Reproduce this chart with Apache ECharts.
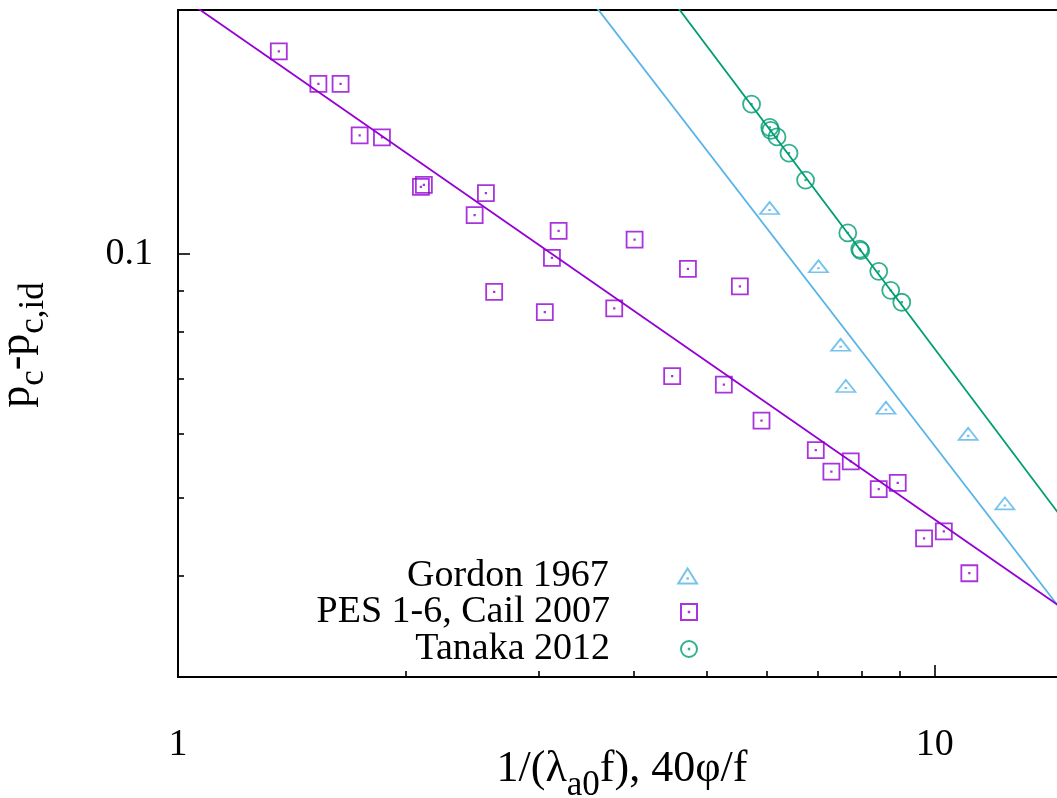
<!DOCTYPE html>
<html><head><meta charset="utf-8">
<script src="https://cdn.jsdelivr.net/npm/echarts@6.0.0/dist/echarts.min.js"></script>
<style>html,body{margin:0;padding:0;background:#fff;overflow:hidden}#c{width:1072px;height:798px}</style>
</head><body><div id="c"></div>
<script>
// ---- data ----
const gordonX = [6.05, 7.02, 7.51, 7.63, 8.62, 11.07, 12.38];
const gordonY = [0.1133, 0.0960, 0.0768, 0.0683, 0.0642, 0.0596, 0.0489];

const pesX = [1.359, 1.533, 1.640, 1.738, 1.860, 2.094, 2.113, 2.552, 2.466, 3.184, 3.120, 4.012, 2.617, 3.053,
              3.771, 4.719, 5.527, 4.498, 5.264, 5.903, 6.963, 7.745, 7.302, 8.433, 8.935, 9.680, 10.28, 11.11];
const pesY = [0.1778, 0.1621, 0.1621, 0.1400, 0.1392, 0.1209, 0.1216, 0.1188, 0.1116, 0.1067, 0.0988, 0.1041, 0.0897, 0.0847,
              0.0856, 0.0958, 0.0911, 0.0706, 0.0689, 0.0622, 0.0572, 0.0554, 0.0538, 0.0512, 0.0521, 0.0445, 0.0454, 0.0403];

const tanakaX = [5.727, 6.053, 6.072, 6.188, 6.418, 6.750, 7.675, 7.960, 7.984, 8.433, 8.746, 9.045];
const tanakaY = [0.1530, 0.1432, 0.1420, 0.1394, 0.1331, 0.1233, 0.1061, 0.1013, 0.1009, 0.0951, 0.0901, 0.0871];

const pesFitX = [1, 15];      const pesFitY = [0.209, 0.0361];
const gordonFitX = [3.5, 15]; const gordonFitY = [0.2066, 0.0354];
const tanakaFitX = [4.5, 15]; const tanakaFitY = [0.2057, 0.0461];

const seriesNames = ['Gordon 1967', 'PES 1-6, Cail 2007', 'Tanaka 2012'];
const xMajorTicks = [1, 10];
const xMinorTicks = [2, 3, 4, 5, 6, 7, 8, 9];
const yMajorTicks = [0.1];
const yMinorTicks = [0.04, 0.05, 0.06, 0.07, 0.08, 0.09];
const xRange = [1, 15];
const yRange = [0.03, 0.2];

// ---- styles ----
const C_BLUE = '#56b4e9', C_PURPLE = '#9400d3', C_GREEN = '#009e73';
const FONT = '"Liberation Serif", "Times New Roman", serif';
const SYM_TRI = 'path://M5,0 L10,8 L0,8 Z M4.85,5.2 L5.15,5.2 L5.15,5.5 L4.85,5.5 Z';
const SYM_SQ = 'path://M0,0 L10,0 L10,10 L0,10 Z M4.85,4.85 L5.15,4.85 L5.15,5.15 L4.85,5.15 Z';
const SYM_CI = 'path://M10,5 A5,5 0 1 1 0,5 A5,5 0 1 1 10,5 Z M4.85,4.85 L5.15,4.85 L5.15,5.15 L4.85,5.15 Z';

const zip = (xs, ys) => xs.map((x, i) => [x, ys[i]]);

function xAxisDef(ticks, len, labels, showLine) {
  return {
    type: 'log', logBase: 10, min: xRange[0], max: xRange[1], position: 'bottom', gridIndex: 0,
    axisLine: { show: showLine, onZero: false, lineStyle: { color: '#000', width: 2 } },
    axisTick: { show: true, inside: true, length: len, customValues: ticks, lineStyle: { color: '#000', width: 1.6 } },
    axisLabel: labels ? { show: true, customValues: labels, fontSize: 38, fontFamily: FONT, color: '#000', margin: 49 } : { show: false },
    minorTick: { show: false }, splitLine: { show: false }
  };
}
function yAxisDef(ticks, len, labels, showLine) {
  return {
    type: 'log', logBase: 10, min: yRange[0], max: yRange[1], position: 'left', gridIndex: 0,
    axisLine: { show: showLine, onZero: false, lineStyle: { color: '#000', width: 2 } },
    axisTick: { show: true, inside: true, length: len, customValues: ticks, lineStyle: { color: '#000', width: 1.6 } },
    axisLabel: labels ? { show: true, customValues: labels, fontSize: 38, fontFamily: FONT, color: '#000', margin: 25 } : { show: false },
    minorTick: { show: false }, splitLine: { show: false }
  };
}

function legendDef(name, top, h) {
  return {
    data: [name], orient: 'vertical', align: 'right', right: 374, top: top,
    padding: 0, itemWidth: 148, itemHeight: h, selectedMode: false,
    textStyle: { fontSize: 38, fontFamily: FONT, color: '#000' }
  };
}

const chart = echarts.init(document.getElementById('c'), null, { renderer: 'canvas' });
chart.setOption({
  animation: false,
  backgroundColor: '#fff',
  grid: { left: 178, top: 10, width: 890, height: 667, show: true, borderColor: '#000', borderWidth: 2, containLabel: false },
  xAxis: [xAxisDef(xMajorTicks, 12, xMajorTicks, true), xAxisDef(xMinorTicks, 6, null, false)],
  yAxis: [yAxisDef(yMajorTicks, 12, yMajorTicks, true), yAxisDef(yMinorTicks, 6, null, false)],
  legend: [
    legendDef(seriesNames[0], 557, 15),
    legendDef(seriesNames[1], 593, 16),
    legendDef(seriesNames[2], 630, 16)
  ],
  series: [
    { type: 'line', data: zip(gordonFitX, gordonFitY), showSymbol: false, symbol: 'none', clip: true, silent: true,
      lineStyle: { color: C_BLUE, width: 1.8 }, z: 1 },
    { type: 'line', data: zip(pesFitX, pesFitY), showSymbol: false, symbol: 'none', clip: true, silent: true,
      lineStyle: { color: C_PURPLE, width: 1.8 }, z: 1 },
    { type: 'line', data: zip(tanakaFitX, tanakaFitY), showSymbol: false, symbol: 'none', clip: true, silent: true,
      lineStyle: { color: C_GREEN, width: 1.8 }, z: 1 },
    { name: seriesNames[0], type: 'scatter', data: zip(gordonX, gordonY), symbol: SYM_TRI, symbolSize: [19, 15],
      symbolKeepAspect: true, symbolOffset: [0, -1.8],
      itemStyle: { color: 'rgba(0,0,0,0)', borderColor: C_BLUE, borderWidth: 1.8 }, z: 3 },
    { name: seriesNames[1], type: 'scatter', data: zip(pesX, pesY), symbol: SYM_SQ, symbolSize: 16,
      symbolKeepAspect: true,
      itemStyle: { color: 'rgba(0,0,0,0)', borderColor: C_PURPLE, borderWidth: 1.8 }, z: 3 },
    { name: seriesNames[2], type: 'scatter', data: zip(tanakaX, tanakaY), symbol: SYM_CI, symbolSize: 17,
      symbolKeepAspect: true,
      itemStyle: { color: 'rgba(0,0,0,0)', borderColor: C_GREEN, borderWidth: 1.8 }, z: 3 }
  ],
  graphic: [
    { type: 'text', x: 622, y: 747, z: 10,
      style: { text: '{m|1/(λ}{s|a0}{m|f), 40φ/f}', align: 'center', verticalAlign: 'top', fill: '#000',
        rich: { m: { fontSize: 44, lineHeight: 44, verticalAlign: 'top', fontFamily: FONT, fill: '#000' },
                s: { fontSize: 35, lineHeight: 78, fontFamily: FONT, fill: '#000' } } } },
    { type: 'text', x: -5, y: 345, rotation: Math.PI / 2, z: 10,
      style: { text: '{m|p}{s|c}{m|-p}{s|c,id}', align: 'center', verticalAlign: 'top', fill: '#000',
        rich: { m: { fontSize: 44, lineHeight: 44, verticalAlign: 'top', fontFamily: FONT, fill: '#000' },
                s: { fontSize: 35, lineHeight: 78, fontFamily: FONT, fill: '#000' } } } }
  ]
});
</script></body></html>
